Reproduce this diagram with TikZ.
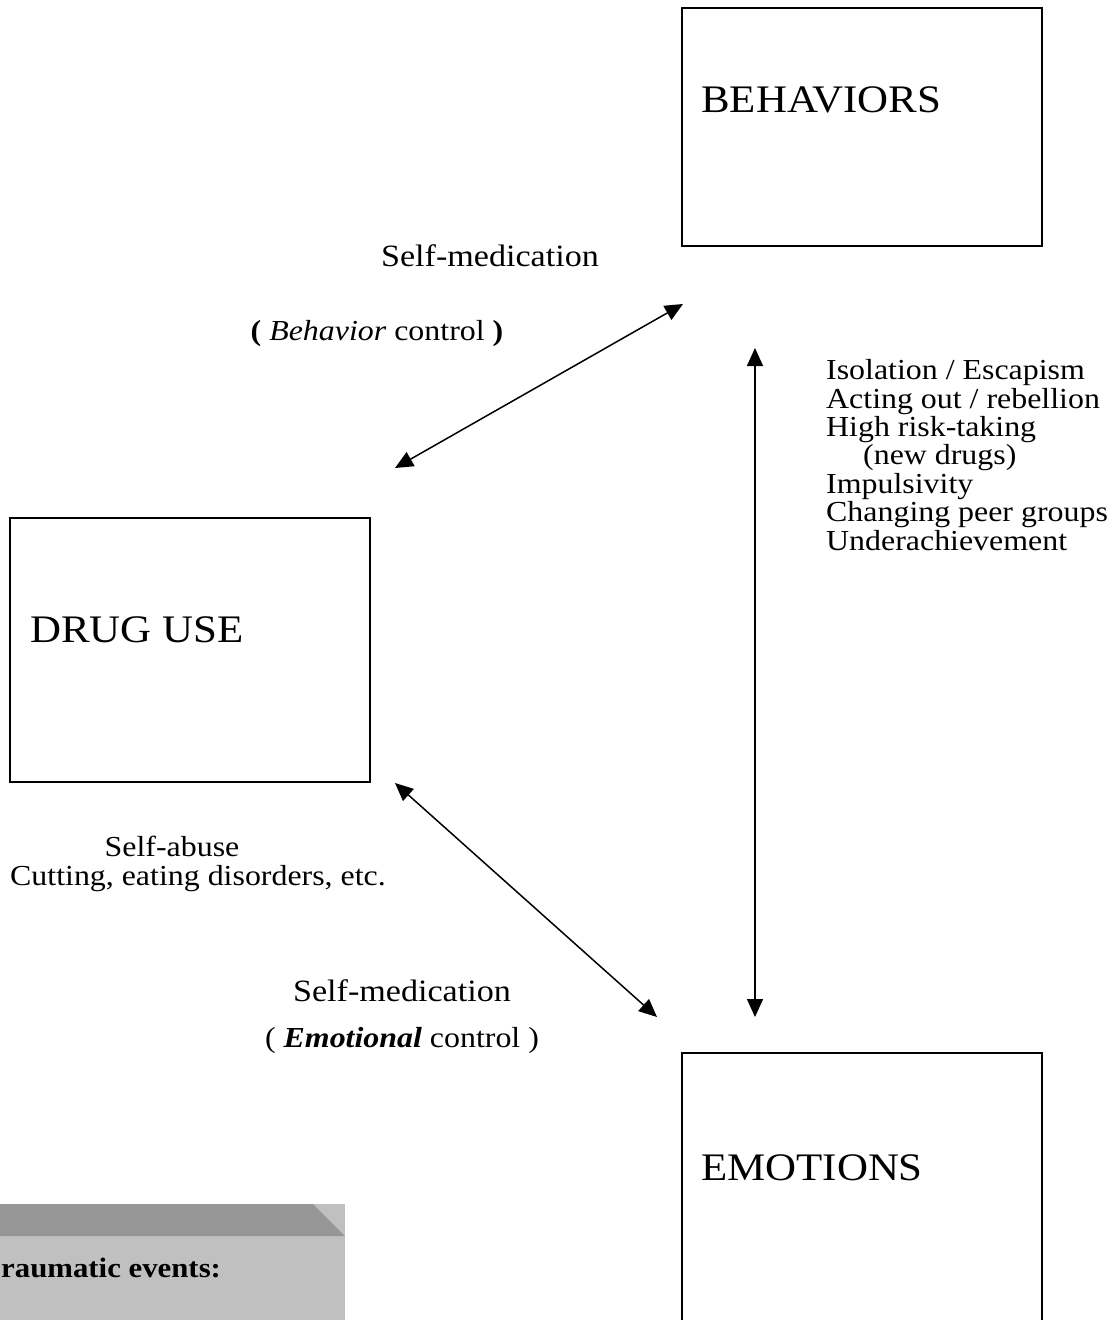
\documentclass[tikz,border=0pt]{standalone}
\usepackage{fontspec}
\setmainfont{Liberation Serif}[FakeStretch=1.1]
\usetikzlibrary{arrows.meta}
\tikzset{
  box/.style={draw=black, line width=1.6pt, inner sep=0pt, fill=none},
  bigtxt/.style={anchor=base west, inner sep=0pt, font=\fontsize{39}{39}\selectfont},
  medtxt/.style={anchor=base, inner sep=0pt, font=\fontsize{31}{31}\selectfont},
  smtxt/.style={anchor=base, inner sep=0pt, font=\fontsize{29}{29}\selectfont},
  listtxt/.style={anchor=base west, inner sep=0pt, font=\fontsize{29}{28.4}\selectfont, align=left},
  dbl/.style={line width=1.5pt, {Triangle[length=18pt,width=16pt]}-{Triangle[length=18pt,width=16pt]}}
}
\begin{document}
\begin{tikzpicture}[x=1pt,y=-1pt]
\useasboundingbox (0,0) rectangle (1115,1320);
% boxes
\node[box, minimum width=360pt, minimum height=238pt] (beh) at (862,127) {};
\node[box, minimum width=360pt, minimum height=264pt] (drug) at (190,650) {};
\node[box, minimum width=360pt, minimum height=290pt] (emo) at (862,1198) {};
\node[bigtxt] (behL) at (701,112) {BEHAVIORS};
\node[bigtxt] (drugL) at (30,642) {DRUG USE};
\node[bigtxt] (emoL) at (701,1180) {EMOTIONS};
% connector ends
\coordinate (a1) at (395,468);
\coordinate (a2) at (683,304);
\coordinate (b1) at (395,783);
\coordinate (b2) at (657,1017);
\coordinate (c1) at (755,348);
\coordinate (c2) at (755,1017);
\draw[dbl] (a1) -- (a2);
\draw[dbl] (b1) -- (b2);
\draw[dbl] (c1) -- (c2);
% labels
\node[medtxt] (sm1) at (490,266) {Self-medication};
\node[smtxt] (bc) at (377,340) {\textbf{(} \textit{Behavior} control \textbf{)}};
\node[medtxt] (sm2) at (402,1001) {Self-medication};
\node[smtxt] (ec) at (402,1047) {( \textbf{\textit{Emotional}} control )};
\node[smtxt] (sa) at (172,856) {Self-abuse};
\node[smtxt] (cut) at (198,885) {Cutting, eating disorders, etc.};
\node[listtxt] (list) at (826,550) {Isolation / Escapism\\Acting out / rebellion\\High risk-taking\\\hspace*{37pt}(new drugs)\\Impulsivity\\Changing peer groups\\Underachievement};
% trauma box
\fill[fill={rgb,255:red,192;green,192;blue,192}] (0,1204) rectangle (345,1320);
\fill[fill={rgb,255:red,150;green,150;blue,150}] (0,1204) -- (313,1204) -- (345,1236) -- (0,1236) -- cycle;
\node[anchor=base west, inner sep=0pt, font=\fontsize{28}{28}\selectfont\bfseries] (tr) at (1,1277) {raumatic events:};
\end{tikzpicture}
\end{document}
